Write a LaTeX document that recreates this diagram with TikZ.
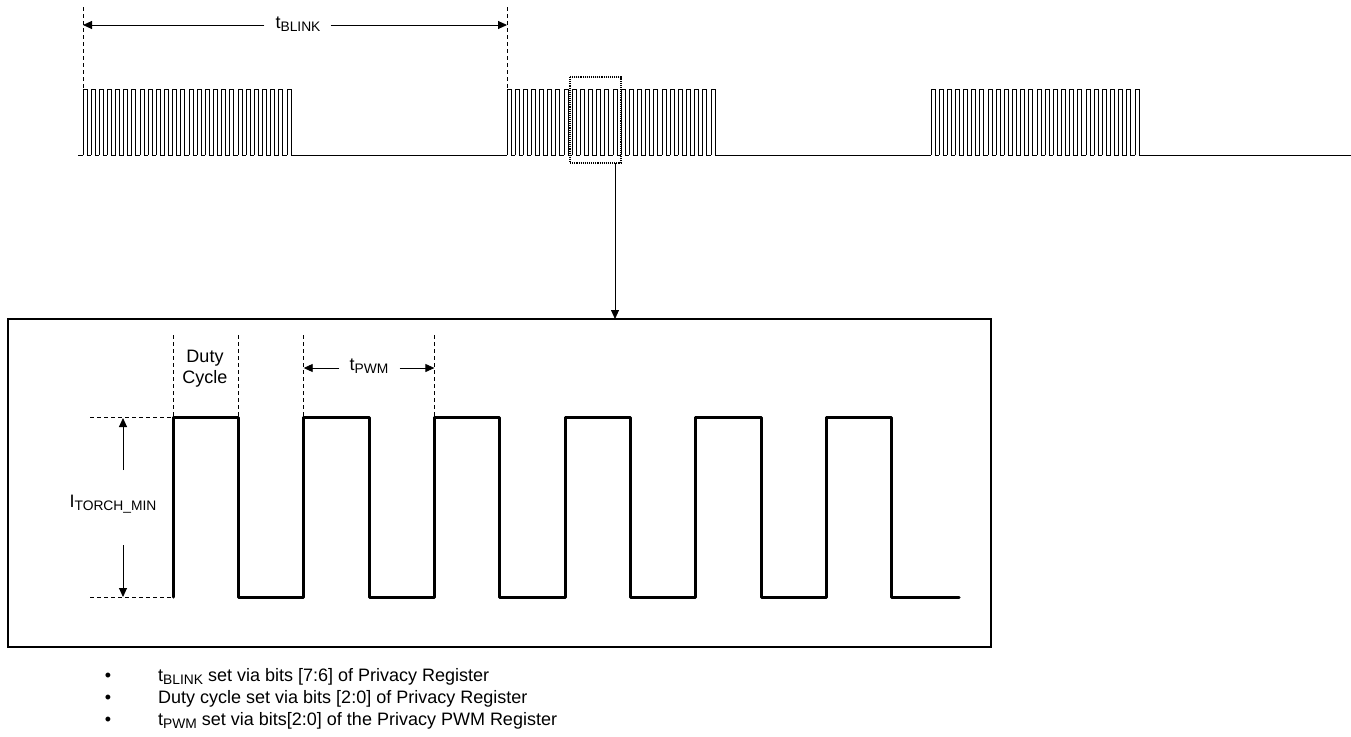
\documentclass[tikz,border=0pt]{standalone}
\usepackage{fontspec}
\setmainfont{Liberation Sans}
\usetikzlibrary{arrows.meta}
\newcommand\subtxt[1]{\raisebox{-0.35ex}{\fontsize{13.8}{14}\selectfont #1}}
\begin{document}
\begin{tikzpicture}[x=1pt,y=-1pt,
  lbl/.style={font=\fontsize{18}{21}\selectfont, inner sep=0pt},
  arr/.style={-{Triangle[length=9pt,width=8pt]}, line width=0.9pt},
  pulse/.style={line width=1pt},
  guide/.style={line width=0.8pt, dash pattern=on 4pt off 3pt},
  zoombox/.style={densely dotted, line width=1.1pt},
  frame/.style={line width=1.5pt},
  wave/.style={line width=3pt, line join=round, line cap=round}]
\path[use as bounding box] (0,0) rectangle (1351,736);

% ---- top pulse train ----
\draw[pulse] (78,155) -- (83,155);
\draw[pulse] (291,155) -- (507,155);
\draw[pulse] (715,155) -- (931,155);
\draw[pulse] (1139,155) -- (1351,155);
\foreach \s in {83,507,931}{
  \foreach \i in {0,...,25}{
    \draw[pulse] ({\s+\i*8.16},155) -- ({\s+\i*8.16},89) -- ({\s+\i*8.16+4},89)
      -- ({\s+\i*8.16+4},155) -- ({\s+\i*8.16+8.16},155);
  }
}

% ---- t_BLINK ----
\draw[guide] (83,7) -- (83,89);
\draw[guide] (507,7) -- (507,89);
\node[lbl] (tb) at (298,24) {t\subtxt{BLINK}};
\coordinate (bl) at (83,25);
\coordinate (br) at (507,25);
\draw[arr] ([xshift=-11pt]tb.west |- bl) -- (bl);
\draw[arr] ([xshift=10pt]tb.east |- br) -- (br);

% ---- zoom box and arrow ----
\draw[zoombox] (570,77) rectangle (621,163);
\coordinate (zb) at (615,163);
\coordinate (bt) at (615,319);
\draw[arr] (zb) -- (bt);

% ---- detail frame ----
\draw[frame] (8,319) rectangle (991,647);

% ---- square wave ----
\draw[wave] (173,597)
  \foreach \k in {0,...,5}{
    -- ({173+130.7*\k},417) -- ({238.3+130.7*\k},417)
    -- ({238.3+130.7*\k},597) -- ({303.7+130.7*\k},597)}
  -- (959,597);

% guides
\foreach \x in {173,238.3,303.7,434.4}{
  \draw[guide] (\x,335) -- (\x,417);
}
\draw[guide] (90,417) -- (173,417);
\draw[guide] (90,597) -- (173,597);

% I_TORCH_MIN
\node[lbl] (it) at (113,504) {I\subtxt{TORCH\_MIN}};
\coordinate (ita) at (123,470);
\coordinate (itt) at (123,418);
\coordinate (itb) at (123,545);
\coordinate (itbt) at (123,597);
\draw[arr] (ita) -- (itt);
\draw[arr] (itb) -- (itbt);

% Duty cycle
\node[lbl, align=center] (dc) at (205,369) {Duty\\Cycle};

% t_PWM
\node[lbl] (tp) at (369,366) {t\subtxt{PWM}};
\coordinate (pl) at (303.7,368);
\coordinate (pr) at (434.4,368);
\draw[arr] ([xshift=-10pt]tp.west |- pl) -- (pl);
\draw[arr] ([xshift=11pt]tp.east |- pr) -- (pr);

% ---- bullet list ----
\node[lbl, anchor=base] (b1) at (108,681) {\textbullet};
\node[lbl, anchor=base] (b2) at (108,703) {\textbullet};
\node[lbl, anchor=base] (b3) at (108,725) {\textbullet};
\node[lbl, anchor=base west] (l1) at (158,681) {t\subtxt{BLINK} set via bits [7:6] of Privacy Register};
\node[lbl, anchor=base west] (l2) at (158,703) {Duty cycle set via bits [2:0] of Privacy Register};
\node[lbl, anchor=base west] (l3) at (158,725) {t\subtxt{PWM} set via bits[2:0] of the Privacy PWM Register};
\end{tikzpicture}
\end{document}
